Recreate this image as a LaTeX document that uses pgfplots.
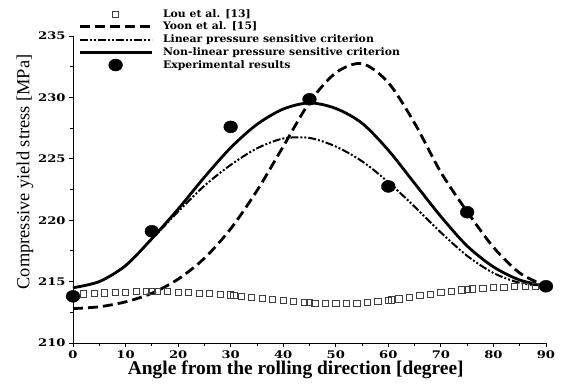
\documentclass[border=0pt]{standalone}
\usepackage{fontspec}
\setmainfont{Liberation Serif}
\newfontfamily\tickfont[FakeStretch=1.25]{DejaVu Serif}
\newfontfamily\legfont[FakeStretch=1.05]{DejaVu Serif}
\usepackage{pgfplots}
\pgfplotsset{compat=1.18}
\pgfplotsset{myleg/.style={legend image code/.code={\draw[mark repeat=2,mark phase=2,##1] plot coordinates {(0bp,0bp) (36bp,0bp) (72bp,0bp)};}}}
\begin{document}
\begin{tikzpicture}
\begin{axis}[
 scale only axis, width=473bp, height=307bp,
 xmin=0, xmax=90, ymin=210, ymax=235,
 axis x line*=bottom, axis y line*=left,
 axis line style={line width=0.9bp},
 xtick={0,10,...,90}, ytick={210,215,...,235},
 minor x tick num=1, minor y tick num=1,
 tick align=outside, major tick length=4bp, minor tick length=2.5bp,
 tick style={black, line width=0.8bp},
 ticklabel style={font=\tickfont\bfseries\fontsize{10.5}{12}\selectfont},
 /pgf/number format/assume math mode=true,
 clip=false,
 xlabel={Angle from the rolling direction [degree]},
 ylabel={Compressive yield stress [MPa]},
 xlabel style={at={(axis description cs:0.471,-0.088)}, anchor=center, font=\bfseries\fontsize{19.5}{22}\selectfont},
 ylabel style={at={(axis description cs:-0.1015,0.557)}, anchor=center, font=\fontsize{18.5}{22}\selectfont},
 legend style={at={(axis description cs:0.0106,1.094)}, anchor=north west, draw=none, fill=none, inner sep=0pt,
   font=\legfont\bfseries\fontsize{10.4}{11}\selectfont, row sep=-0.6pt, cells={anchor=west},
   /tikz/every odd column/.append style={column sep=8bp}},
]
\addplot[only marks, mark=square, mark size=3.1bp, mark options={draw=black!75, line width=0.7bp}, myleg] coordinates {
(0,213.95) (2,214.0) (4,214.05) (6,214.09) (8,214.12) (10,214.15) (12,214.18) (14,214.19) (15,214.2) (16,214.2) (18,214.18) (20,214.15)
(22,214.11) (24,214.06) (26,214.02) (28,213.97) (30,213.92) (30.6,213.9) (32,213.83) (34,213.74) (36,213.64) (38,213.54) (40,213.45)
(42,213.37) (44,213.3) (45,213.28) (46,213.26) (48,213.23) (50,213.22) (52,213.23) (54,213.26) (56,213.31) (58,213.39) (60,213.48)
(60.6,213.52) (62,213.6) (64,213.72) (66,213.85) (68,213.98) (70,214.1) (72,214.22) (74,214.33) (75,214.37) (76,214.41) (78,214.47)
(80,214.52) (82,214.56) (84,214.59) (86,214.61) (88,214.62) (90,214.63)
};
\addlegendentry{Lou et al. [13]}
\addplot[black, line width=2.8bp, dash pattern=on 10bp off 5bp, smooth, myleg] coordinates {
(0,212.8) (5,212.95) (10,213.35) (15,214.05) (20,215.2) (25,216.9) (30,219.3) (35,222.4) (40,226.0) (45,229.6)
(50,232.0) (55,232.75) (60,231.2) (65,227.9) (70,223.9) (75,220.7) (80,217.8) (85,215.7) (90,214.64)
};
\addlegendentry{Yoon et al. [15]}
\addplot[black, line width=2bp, dash pattern=on 8bp off 2bp on 2bp off 2bp on 2bp off 2bp, smooth, myleg] coordinates {
(0,214.5) (5,215.0) (10,216.3) (15,218.45) (20,220.7) (25,222.8) (30,224.5) (35,225.85) (40,226.65) (45,226.7)
(50,226.0) (55,224.8) (60,223.1) (65,221.1) (70,219.0) (75,217.1) (80,215.7) (85,214.9) (90,214.64)
};
\addlegendentry{Linear pressure sensitive criterion}
\addplot[black, line width=2.8bp, smooth, myleg] coordinates {
(0,214.5) (5,215.0) (10,216.3) (15,218.5) (20,220.9) (25,223.5) (30,225.9) (35,227.8) (40,229.05) (45,229.55)
(50,229.1) (55,227.9) (60,225.7) (65,223.0) (70,220.3) (75,217.9) (80,216.2) (85,215.13) (90,214.64)
};
\addlegendentry{Non-linear pressure sensitive criterion}
\addplot[only marks, mark=*, mark size=6bp, mark options={fill=black, draw=black, xscale=1.15}, myleg] coordinates {
(0,213.8) (15,219.1) (30,227.6) (45,229.85) (60,222.75) (75,220.65) (90,214.62)
};
\addlegendentry{Experimental results}
\end{axis}
\pgfresetboundingbox
\path (-73bp,-42bp) rectangle (488bp,343bp);
\end{tikzpicture}
\end{document}
